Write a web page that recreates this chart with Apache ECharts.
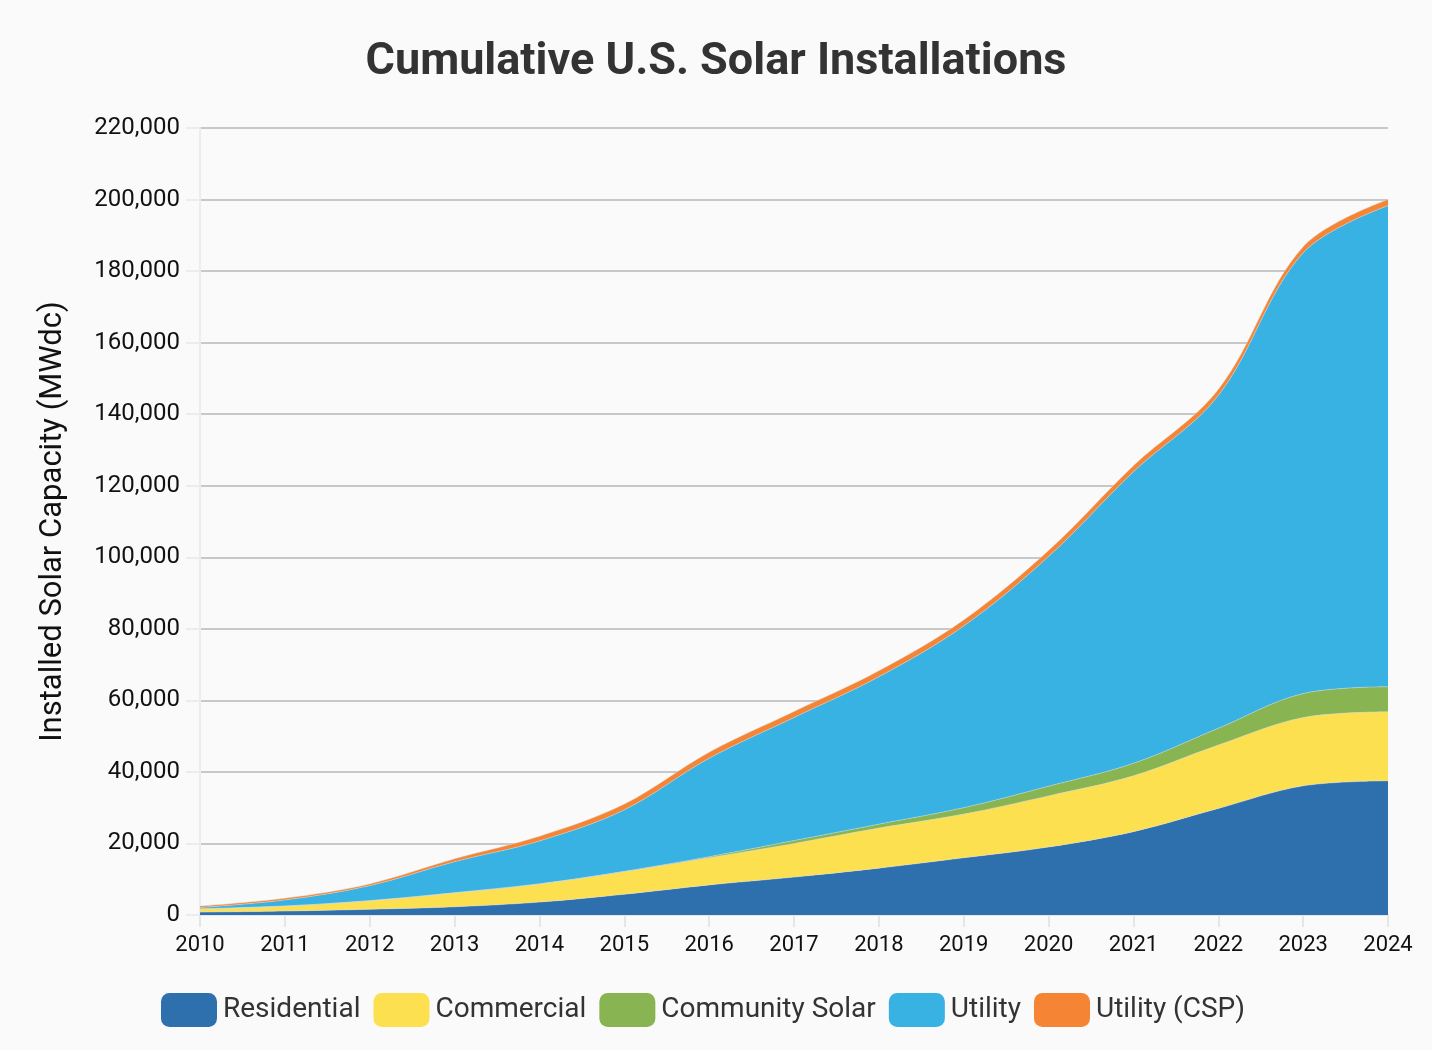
<!DOCTYPE html>
<html>
<head>
<meta charset="utf-8">
<script src="https://cdn.jsdelivr.net/npm/echarts@6/dist/echarts.min.js"></script>
<style>
html,body{margin:0;padding:0;background:#fafafa;}
#chart{width:1432px;height:1050px;}
</style>
</head>
<body>
<div id="chart"></div>
<script>
var years = ['2010','2011','2012','2013','2014','2015','2016','2017','2018','2019','2020','2021','2022','2023','2024'];
var residential = [800, 1100, 1600, 2300, 3600, 5800, 8400, 10600, 13100, 16000, 19000, 23300, 29800, 36100, 37500];
var commercial = [900, 1400, 2400, 3900, 5100, 6300, 7600, 9400, 11200, 12200, 14300, 15600, 17700, 19100, 19300];
var communitySolar = [0, 0, 0, 0, 0, 100, 300, 800, 1100, 1800, 2700, 3500, 4700, 6700, 7000];
var utility = [400, 1700, 4200, 8700, 12000, 17200, 27500, 34400, 41200, 50800, 64200, 81500, 93000, 123200, 134500];
var utilityCSP = [400, 500, 500, 800, 1300, 1600, 1700, 1700, 1700, 1700, 1700, 1700, 1700, 1700, 1700];
var yTicks = [0, 20000, 40000, 60000, 80000, 100000, 120000, 140000, 160000, 180000, 200000, 220000];

var names = ['Residential','Commercial','Community Solar','Utility','Utility (CSP)'];
var colors = ['#2e6fad','#fde050','#88b451','#38b2e3','#f58434'];
var datas = [residential, commercial, communitySolar, utility, utilityCSP];

var chart = echarts.init(document.getElementById('chart'));
var series = names.map(function(n,i){
  return {
    name: n, type: 'line', stack: 'total', smooth: 0.35,
    showSymbol: false, symbol: 'none',
    lineStyle: {width: 0.6, color: 'rgba(220,220,220,0.8)'},
    itemStyle: {color: colors[i]},
    areaStyle: {color: colors[i], opacity: 1},
    data: datas[i]
  };
});
chart.setOption({
  backgroundColor: '#fafafa',
  animation: false,
  color: colors,
  title: {
    text: 'Cumulative U.S. Solar Installations',
    left: 'center', top: 35,
    textStyle: {fontFamily: 'Roboto', fontSize: 45, fontWeight: 'bold', color: '#333'}
  },
  legend: {
    bottom: 18, left: 156,
    itemWidth: 56, itemHeight: 34, itemGap: 13,
    icon: 'roundRect',
    textStyle: {fontFamily: 'Roboto', fontSize: 28, color: '#333', padding: [0,0,0,1]},
    data: names
  },
  grid: {left: 200, right: 44, top: 128, bottom: 135, containLabel: false},
  xAxis: {
    type: 'category', boundaryGap: false, data: years,
    axisLine: {show: true, lineStyle: {color: '#e6e6e6', width: 2}},
    axisTick: {show: true, length: 12, lineStyle: {color: '#e6e6e6', width: 2}},
    axisLabel: {fontFamily: 'Roboto', fontSize: 22, color: '#111', margin: 19},
    splitLine: {show: false}
  },
  yAxis: {
    type: 'value', min: yTicks[0], max: yTicks[yTicks.length-1], interval: yTicks[1]-yTicks[0],
    name: 'Installed Solar Capacity (MWdc)', nameLocation: 'middle', nameGap: 131,
    nameTextStyle: {fontFamily: 'Roboto', fontSize: 31, color: '#111'},
    axisLine: {show: true, lineStyle: {color: '#ececec', width: 2}},
    axisTick: {show: true, length: 14, lineStyle: {color: '#ececec', width: 2}},
    axisLabel: {fontFamily: 'Roboto', fontSize: 24, color: '#111', margin: 20,
      formatter: function(v){ return v.toLocaleString('en-US'); }},
    splitLine: {show: true, lineStyle: {color: '#c8c8c8', width: 2}}
  },
  series: series
});
</script>
</body>
</html>
